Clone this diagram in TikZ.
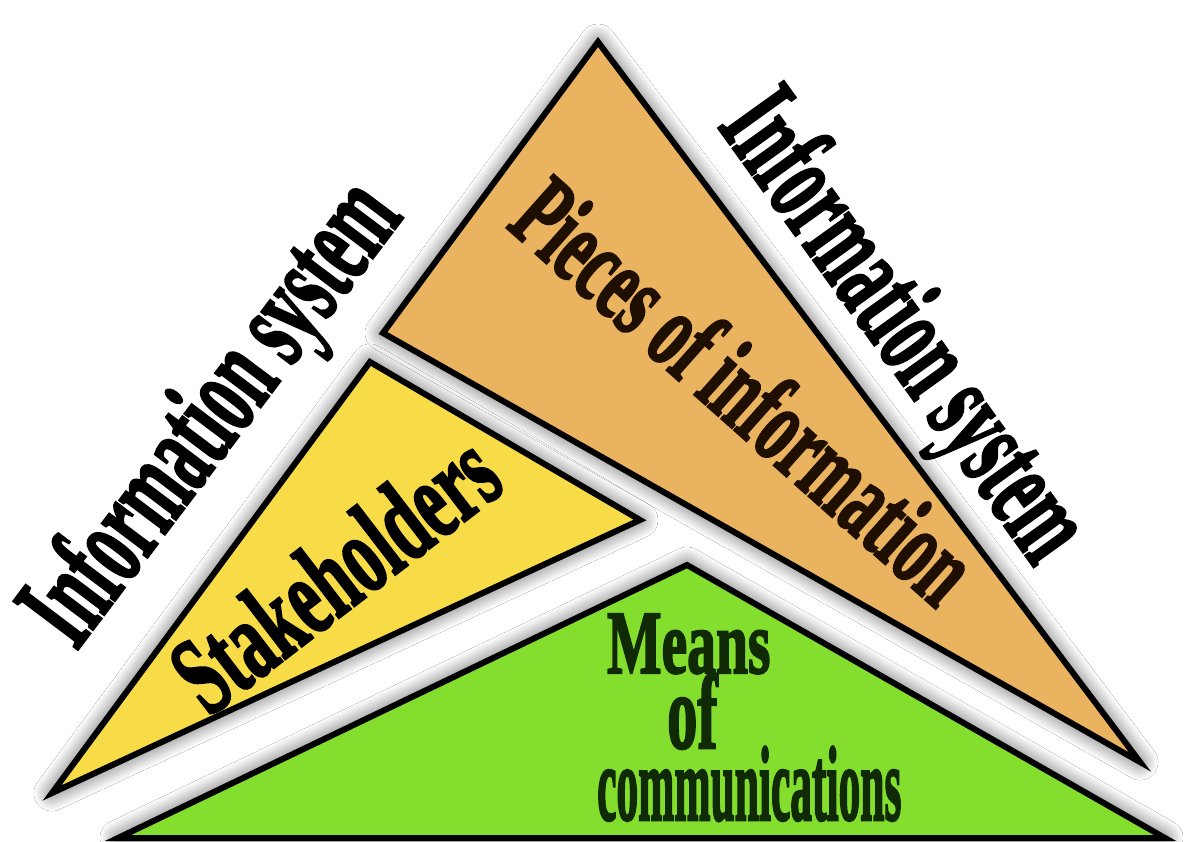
\documentclass[tikz,border=0pt]{standalone}
\usepackage{fontspec}
\setmainfont{Liberation Serif}[BoldFeatures={FakeBold=2.5}]
\usetikzlibrary{shadows.blur}
\definecolor{orangefill}{HTML}{E9B35F}
\definecolor{yellowfill}{HTML}{F7DC47}
\definecolor{greenfill}{HTML}{84DE2E}
\definecolor{greentext}{HTML}{0F2A05}
\definecolor{browntext}{HTML}{1E0F00}
\newcommand\condtext[3]{\scalebox{#1}[1]{\fontsize{#2}{#2}\selectfont\bfseries #3}}
\begin{document}
\begin{tikzpicture}[x=1pt,y=-1pt,
  tri/.style={draw=black, line width=6pt, line join=miter,
    blur shadow={shadow xshift=0pt, shadow yshift=0pt, shadow blur radius=18pt,
      shadow opacity=70, shadow blur steps=18}},
  lbl/.style={inner sep=0pt, anchor=base}]
\useasboundingbox (0,0) rectangle (1187,842);
\fill[white] (0,0) rectangle (1187,842);
% vertices
\coordinate (oT) at (598,42);
\coordinate (oL) at (383,333);
\coordinate (oR) at (1140,762);
\coordinate (yT) at (370,362);
\coordinate (yL) at (52,793);
\coordinate (yR) at (640,520);
\coordinate (gT) at (687,565);
\coordinate (gL) at (118,838);
\coordinate (gR) at (1165,838);
% triangles
\filldraw[tri, fill=orangefill] (oT) -- (oL) -- (oR) -- cycle;
\filldraw[tri, fill=yellowfill] (yT) -- (yL) -- (yR) -- cycle;
\filldraw[tri, fill=greenfill] (gT) -- (gL) -- (gR) -- cycle;
% labels
\node[lbl, rotate=53] (isLeft) at (240,434) {\condtext{0.534}{122}{Information system}};
\node[lbl, rotate=-54.3] (isRight) at (876,347) {\condtext{0.534}{122}{Information system}};
\node[lbl, rotate=-41.6, text=browntext] (pieces) at (721,418) {\condtext{0.59}{108}{Pieces of information}};
\node[lbl, rotate=37.5] (stake) at (358,603) {\condtext{0.6}{113}{Stakeholders}};
\node[inner sep=0pt, anchor=base west, text=greentext] (means) at (607,673) {\condtext{0.64}{90}{Means}};
\node[inner sep=0pt, anchor=base west, text=greentext] (of) at (667,748) {\condtext{0.57}{106}{of}};
\node[inner sep=0pt, anchor=base west, text=greentext] (comm) at (597,820) {\condtext{0.41}{106}{communications}};
\end{tikzpicture}
\end{document}
